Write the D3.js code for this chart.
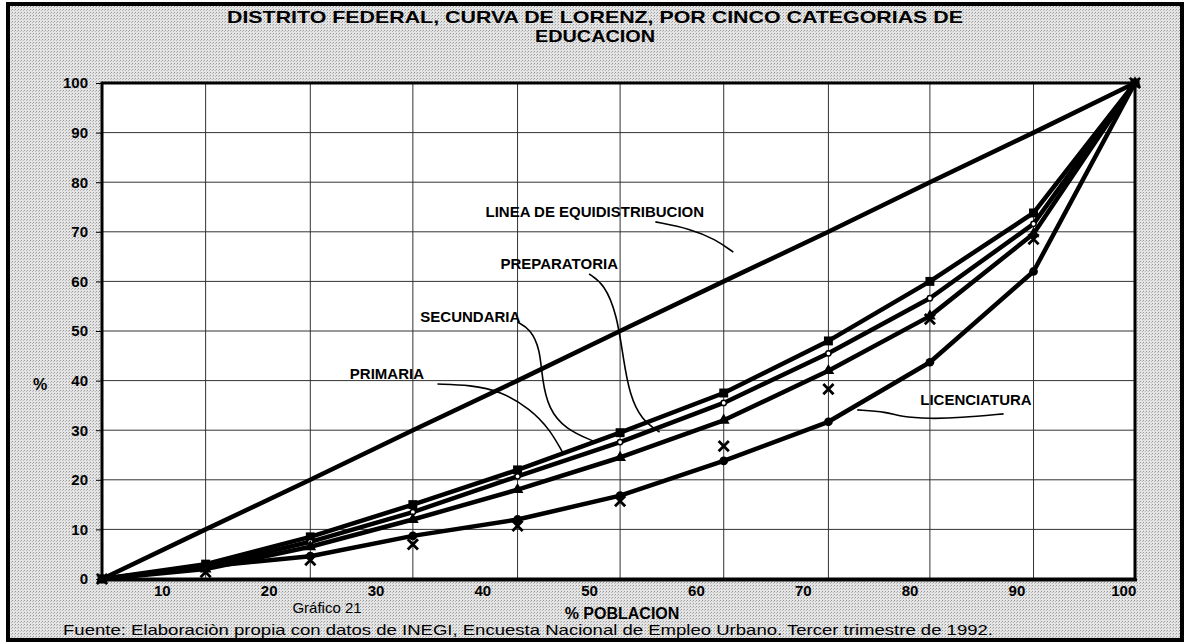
<!DOCTYPE html>
<html>
<head>
<meta charset="utf-8">
<script src="https://cdn.jsdelivr.net/npm/d3@7"></script>
<style>
  body { margin: 0; background: #fff; }
  text { font-family: "Liberation Sans", Arial, sans-serif; fill: #000; }
</style>
</head>
<body>
<svg id="chart" width="1187" height="643"></svg>
<script>
// Lorenz curves, Distrito Federal, five education categories
const WIDTH = 1187;
const HEIGHT = 643;

// % poblacion (cumulative) at each point
const poblacion = [4.4, 14.1, 23.9, 33.5, 43.3, 52.9, 62.6, 72.4, 81.9, 91.6, 101.1];
// % ingreso (cumulative) per category
const equidistribucion = [0, 10, 20, 30, 40, 50, 60, 70, 80, 90, 100];
const preparatoria = [0, 3, 8.5, 15, 22, 29.5, 37.5, 48, 60, 73.8, 100];
const secundaria = [0, 2.5, 7.5, 13.5, 20.7, 27.6, 35.5, 45.5, 56.6, 71.6, 100];
const primaria = [0, 2, 6.5, 12, 18, 24.5, 32, 42, 53, 69.6, 100];
const licenciatura = [0, 2.5, 4.6, 8.7, 12, 16.8, 23.8, 31.7, 43.7, 62, 100];
const sinInstruccion = [0, 1.4, 3.8, 7, 10.7, 15.7, 26.8, 38.3, 52.4, 68.5, 100];

const yTicks = [0, 10, 20, 30, 40, 50, 60, 70, 80, 90, 100];
const xTicks = [10, 20, 30, 40, 50, 60, 70, 80, 90, 100];

// annotation labels and their leader lines, in data units
const labels = [
  { text: "LINEA DE EQUIDISTRIBUCION", x: 40.3, y: 73.0 },
  { text: "PREPARATORIA", x: 41.7, y: 62.5 },
  { text: "SECUNDARIA", x: 34.2, y: 51.8 },
  { text: "PRIMARIA", x: 27.6, y: 40.3 },
  { text: "LICENCIATURA", x: 81.0, y: 35.1 }
];
const leaderEquid = [[56.2, 72.0], [59.5, 70.6], [61.8, 68.5], [63.5, 65.9]];
const leaderPrep = [[50.0, 61.5], [51.4, 59.5], [52.6, 53.4], [53.2, 44.4], [53.8, 37.1], [54.9, 32.1], [56.6, 29.6]];
const leaderSec = [[43.3, 51.8], [44.5, 50.4], [45.4, 46.4], [45.6, 40.3], [46.2, 34.3], [47.8, 30.2], [50.4, 27.8]];
const leaderPrim = [[35.8, 39.3], [38.9, 39.1], [41.7, 37.9], [44.5, 34.3], [46.3, 30.2], [47.5, 25.6]];
const leaderLic = [[75.1, 34.1], [77.9, 33.7], [79.1, 32.7], [81.9, 32.3], [84.7, 32.5], [88.8, 33.3]];

const PLOT = { left: 102, right: 1135, top: 83, bottom: 579 };

const svg = d3.select("#chart");

// stipple background like the scanned page
const defs = svg.append("defs");
const pat = defs.append("pattern").attr("id", "stipple")
  .attr("width", 3).attr("height", 3).attr("patternUnits", "userSpaceOnUse");
pat.append("rect").attr("width", 3).attr("height", 3).attr("fill", "#e4e4e4");
pat.append("rect").attr("x", 0).attr("y", 0).attr("width", 1).attr("height", 1).attr("fill", "#9a9a9a");
pat.append("rect").attr("x", 2).attr("y", 1).attr("width", 1).attr("height", 1).attr("fill", "#b8b8b8");

svg.append("rect").attr("width", WIDTH).attr("height", HEIGHT).attr("fill", "#fff");
svg.append("rect")
  .attr("x", 8).attr("y", 4).attr("width", 1174).attr("height", 636)
  .attr("fill", "url(#stipple)")
  .attr("stroke", "#000").attr("stroke-width", 4);

const xScale = d3.scaleLinear().domain([4.4, 101.1]).range([PLOT.left, PLOT.right]);
const yScale = d3.scaleLinear().domain([0, 100]).range([PLOT.bottom, PLOT.top]);

// plot area
svg.append("rect")
  .attr("x", PLOT.left).attr("y", PLOT.top)
  .attr("width", PLOT.right - PLOT.left).attr("height", PLOT.bottom - PLOT.top)
  .attr("fill", "#fff");

// gridlines
const grid = svg.append("g").attr("stroke", "#333").attr("stroke-width", 1);
grid.selectAll(".hgrid").data(yTicks.slice(1, -1)).join("line")
  .attr("x1", PLOT.left).attr("x2", PLOT.right)
  .attr("y1", d => yScale(d)).attr("y2", d => yScale(d));
grid.selectAll(".vgrid").data(poblacion.slice(1, -1)).join("line")
  .attr("x1", d => xScale(d)).attr("x2", d => xScale(d))
  .attr("y1", PLOT.top).attr("y2", PLOT.bottom);

// y axis
const yAxis = d3.axisLeft(yScale).tickValues(yTicks).tickSize(6).tickPadding(8).tickFormat(d3.format("d"));
svg.append("g")
  .attr("transform", `translate(${PLOT.left},0)`)
  .call(yAxis)
  .call(g => g.select(".domain").remove())
  .call(g => g.selectAll("line").attr("stroke", "#000"))
  .selectAll("text")
  .style("font-family", "'Liberation Sans', Arial, sans-serif")
  .style("font-size", "15px")
  .style("font-weight", "bold")
  .attr("fill", "#000");

// x axis, labels only
const xAxis = d3.axisBottom(xScale).tickValues(xTicks).tickSize(0).tickPadding(6).tickFormat(d3.format("d"));
svg.append("g")
  .attr("transform", `translate(0,${PLOT.bottom})`)
  .call(xAxis)
  .call(g => g.select(".domain").remove())
  .selectAll("text")
  .style("font-family", "'Liberation Sans', Arial, sans-serif")
  .style("font-size", "15px")
  .style("font-weight", "bold")
  .attr("fill", "#000");

// frame of the plot
svg.append("rect")
  .attr("x", PLOT.left).attr("y", PLOT.top)
  .attr("width", PLOT.right - PLOT.left).attr("height", PLOT.bottom - PLOT.top)
  .attr("fill", "none").attr("stroke", "#000").attr("stroke-width", 3);
svg.append("line")
  .attr("x1", PLOT.left - 2).attr("x2", PLOT.right + 2)
  .attr("y1", PLOT.bottom + 1).attr("y2", PLOT.bottom + 1)
  .attr("stroke", "#000").attr("stroke-width", 3);

// curves
const line = d3.line().x(d => xScale(d[0])).y(d => yScale(d[1]));
const zipXY = vals => poblacion.map((x, i) => [x, vals[i]]);

const curves = [equidistribucion, preparatoria, secundaria, primaria, licenciatura];
svg.append("g").selectAll("path").data(curves).join("path")
  .attr("d", d => line(zipXY(d)))
  .attr("fill", "none")
  .attr("stroke", "#000")
  .attr("stroke-width", 4.5)
  .attr("stroke-linejoin", "round");

// markers
function drawMarkers(vals, type, size, fill, stroke, sw) {
  svg.append("g").selectAll("path").data(zipXY(vals)).join("path")
    .attr("transform", d => `translate(${xScale(d[0])},${yScale(d[1])})`)
    .attr("d", d3.symbol().type(type).size(size))
    .attr("fill", fill)
    .attr("stroke", stroke)
    .attr("stroke-width", sw);
}
drawMarkers(preparatoria, d3.symbolSquare, 80, "#000", "none", 0);
drawMarkers(secundaria, d3.symbolCircle, 22, "#fff", "#000", 1.5);
drawMarkers(primaria, d3.symbolTriangle, 60, "#000", "none", 0);
drawMarkers(licenciatura, d3.symbolCircle, 60, "#000", "none", 0);
drawMarkers(sinInstruccion, d3.symbolTimes, 70, "none", "#000", 2.8);

// labels + leaders
const leader = d3.line().x(d => xScale(d[0])).y(d => yScale(d[1])).curve(d3.curveBasis);
svg.append("g").selectAll("path")
  .data([leaderEquid, leaderPrep, leaderSec, leaderPrim, leaderLic]).join("path")
  .attr("d", leader)
  .attr("fill", "none")
  .attr("stroke", "#000")
  .attr("stroke-width", 1.6);

svg.append("g").selectAll("text").data(labels).join("text")
  .attr("x", d => xScale(d.x))
  .attr("y", d => yScale(d.y))
  .attr("font-size", "15px")
  .attr("font-weight", "bold")
  .text(d => d.text);

// titles
svg.append("text")
  .attr("x", 595).attr("y", 23)
  .attr("text-anchor", "middle")
  .attr("font-size", "17px").attr("font-weight", "bold")
  .attr("textLength", 736).attr("lengthAdjust", "spacingAndGlyphs")
  .text("DISTRITO FEDERAL, CURVA DE LORENZ, POR CINCO CATEGORIAS DE");
svg.append("text")
  .attr("x", 595).attr("y", 42)
  .attr("text-anchor", "middle")
  .attr("font-size", "17px").attr("font-weight", "bold")
  .attr("textLength", 120).attr("lengthAdjust", "spacingAndGlyphs")
  .text("EDUCACION");

svg.append("text")
  .attr("x", 40).attr("y", 390)
  .attr("text-anchor", "middle")
  .attr("font-size", "16px").attr("font-weight", "bold")
  .text("%");

svg.append("text")
  .attr("x", 327).attr("y", 613)
  .attr("text-anchor", "middle")
  .attr("font-size", "15px")
  .text("Gráfico 21");

svg.append("text")
  .attr("x", 622).attr("y", 619)
  .attr("text-anchor", "middle")
  .attr("font-size", "16px").attr("font-weight", "bold")
  .text("% POBLACION");

svg.append("text")
  .attr("x", 63).attr("y", 635)
  .attr("font-size", "15px")
  .attr("textLength", 930).attr("lengthAdjust", "spacingAndGlyphs")
  .text("Fuente: Elaboraciòn propia con datos de INEGI, Encuesta Nacional de Empleo Urbano. Tercer trimestre de 1992.");
</script>
</body>
</html>
